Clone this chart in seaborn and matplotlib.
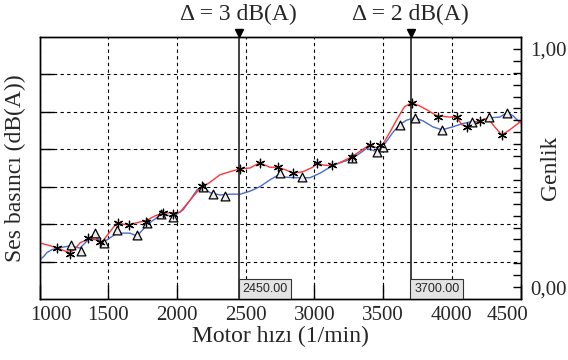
import matplotlib
matplotlib.use("Agg")
import matplotlib.pyplot as plt
import matplotlib.transforms as mtrans
import numpy as np
import pandas as pd
import seaborn as sns

# ---- data ----
red_rpm = [1000, 1060, 1134, 1185, 1221, 1258, 1294, 1353, 1418, 1454, 1513, 1563, 1607, 1651,
           1731, 1768, 1840, 1898, 1971, 2022, 2095, 2168, 2190, 2241, 2313, 2385, 2459, 2531,
           2603, 2675, 2734, 2799, 2843, 2916, 2988, 3017, 3061, 3127, 3184, 3271, 3329, 3402,
           3453, 3496, 3547, 3598, 3656, 3707, 3765, 3816, 3889, 3985, 4035, 4072, 4108, 4152,
           4203, 4261, 4312, 4364, 4422, 4500]
red_db = [57.5, 57.2, 56.8, 56.4, 56.2, 56.7, 57.5, 58.0, 57.9, 57.6, 59.0, 60.2, 60.0, 59.9,
          60.3, 60.4, 61.1, 61.5, 61.5, 61.6, 63.2, 64.8, 65.0, 65.6, 66.6, 67.0, 67.4, 67.5,
          68.2, 67.6, 67.6, 67.2, 66.8, 67.0, 67.6, 68.2, 67.9, 67.8, 68.2, 69.0, 69.7, 70.6,
          70.2, 70.6, 72.2, 73.9, 75.7, 76.2, 75.8, 75.3, 74.5, 74.3, 74.3, 73.3, 73.0, 73.5,
          73.8, 74.2, 73.0, 71.9, 72.6, 73.7]

blue_rpm = [1000, 1031, 1053, 1090, 1134, 1221, 1294, 1353, 1403, 1454, 1491, 1563, 1658, 1709,
            1782, 1840, 1890, 1971, 2044, 2095, 2146, 2183, 2241, 2313, 2385, 2459, 2531, 2603,
            2675, 2749, 2784, 2843, 2909, 2968, 3040, 3113, 3184, 3271, 3380, 3453, 3496, 3569,
            3621, 3672, 3731, 3790, 3862, 3928, 4008, 4072, 4145, 4203, 4269, 4350, 4400, 4444,
            4500]
blue_db = [55.2, 55.7, 56.2, 56.6, 56.8, 57.1, 56.8, 57.9, 58.3, 57.6, 57.9, 58.8, 58.8, 58.4,
           59.9, 60.7, 61.4, 61.0, 61.9, 63.2, 64.6, 65.0, 64.2, 63.9, 64.0, 64.0, 64.4, 65.0,
           65.9, 66.7, 66.3, 66.2, 66.2, 66.2, 66.8, 67.6, 68.2, 68.7, 70.1, 69.7, 70.3, 72.2,
           73.3, 73.9, 74.2, 73.8, 73.0, 72.6, 73.0, 73.4, 73.7, 73.7, 74.2, 74.3, 74.9, 74.5,
           73.5]

star_rpm = [1125, 1221, 1353, 1440, 1570, 1651, 1775, 1898, 1971, 2183, 2459, 2603, 2734, 2843,
            3017, 3127, 3271, 3402, 3475, 3707, 3897, 4035, 4108, 4203, 4364]
star_db = [56.8, 56.0, 58.2, 57.6, 60.2, 59.9, 60.3, 61.5, 61.4, 65.1, 67.4, 68.2, 67.6, 66.8,
           68.2, 67.9, 69.0, 70.6, 70.6, 76.2, 74.3, 74.3, 73.0, 73.8, 71.9]

tri_rpm = [1228, 1302, 1403, 1469, 1563, 1709, 1782, 1883, 1971, 2190, 2262, 2349, 2749, 2909,
           3271, 3453, 3496, 3621, 3731, 3928, 4145, 4269, 4400]
tri_db = [57.2, 56.4, 58.8, 57.5, 59.2, 58.6, 60.2, 61.4, 61.0, 65.0, 64.0, 63.8, 66.8, 66.3,
          68.9, 69.7, 70.3, 73.3, 74.2, 72.6, 73.7, 74.3, 74.9]

cursor_rpm = [2450, 3700]
cursor_titles = ["Δ = 3 dB(A)", "Δ = 2 dB(A)"]
cursor_boxes = ["2450.00", "3700.00"]

x_ticks = [1000, 1500, 2000, 2500, 3000, 3500, 4000, 4500]
x_tick_labels = ["1000", "1500", "2000", "2500", "3000", "3500", "4000", "4500"]
db_grid = [55, 60, 65, 70, 75, 80]
amp_ticks = [0.0, 1.0]
amp_tick_labels = ["0,00", "1,00"]

# ---- style ----
sns.set_style("ticks")
plt.rcParams["font.family"] = ["Liberation Serif", "DejaVu Serif"]

fig = plt.figure(figsize=(5.68, 3.6), dpi=100)
ax = fig.add_axes([39.6 / 568, 1 - 299 / 360, (520.5 - 39.6) / 568, (299 - 37) / 360])

df_red = pd.DataFrame({"rpm": red_rpm, "db": red_db})
df_blue = pd.DataFrame({"rpm": blue_rpm, "db": blue_db})
sns.lineplot(data=df_blue, x="rpm", y="db", color="#4a6cd0", lw=1.0, sort=False,
             estimator=None, ax=ax, zorder=3)
sns.lineplot(data=df_red, x="rpm", y="db", color="#ff3535", lw=1.0, sort=False,
             estimator=None, ax=ax, zorder=3)
sns.scatterplot(x=tri_rpm, y=tri_db, marker="^", s=40, color="#ececec", edgecolor="black",
                linewidth=0.9, ax=ax, zorder=5)
sns.scatterplot(x=star_rpm, y=star_db, marker=(6, 2, 0), s=38, color="black",
                linewidth=0.9, ax=ax, zorder=6)

ax.set_xlim(1000, 4500)
ax.set_ylim(50, 85)
ax.set_xticks(x_ticks)
ax.set_xticklabels(x_tick_labels, fontsize=15)
ax.set_yticks(db_grid)
ax.set_yticklabels([])
ax.tick_params(axis="x", direction="in", length=10, width=1, pad=5, color="black")
ax.tick_params(axis="y", direction="in", length=10, width=1, color="black")
ax.grid(True, color="black", linestyle=(0, (3, 3)), linewidth=0.8)
for s in ax.spines.values():
    s.set_color("black")
    s.set_linewidth(1.0)

ax.set_xlabel("Motor hızı (1/min)", fontsize=17, labelpad=1)
ax.set_ylabel("Ses basıncı (dB(A))", fontsize=17, labelpad=6)

# cursors
blend = mtrans.blended_transform_factory(ax.transData, ax.transAxes)
for xc, title, box in zip(cursor_rpm, cursor_titles, cursor_boxes):
    ax.axvline(xc, color="#333333", lw=1.3, zorder=4)
    ax.plot([xc], [1.015], marker="v", ms=6, color="black", transform=blend,
            clip_on=False, zorder=7)
    ax.annotate(title, xy=(xc, 1.0), xycoords=blend, xytext=(0, 16),
                textcoords="offset points", ha="center", va="center", fontsize=17)
    ax.annotate(box, xy=(xc, 0.0), xycoords=blend, xytext=(2.6, 2.8),
                textcoords="offset points", ha="left", va="bottom", fontsize=9,
                family="Liberation Sans",
                bbox=dict(boxstyle="square,pad=0.3", fc="#e4e4e4", ec="#333333", lw=0.8),
                zorder=8)

# right amplitude axis
ax2 = ax.twinx()
ax2.set_ylim(-0.05, 1.05)
ax2.set_yticks(amp_ticks)
ax2.set_yticklabels(amp_tick_labels, fontsize=15)
ax2.set_yticks(np.arange(0.05, 1.0, 0.05), minor=True)
ax2.tick_params(axis="y", which="both", direction="in", length=6, width=1, pad=7,
                color="black")
ax2.set_ylabel("Genlik", fontsize=17)
ax2.yaxis.set_label_coords(1.04, 0.5)
ax2.grid(False)
for s in ax2.spines.values():
    s.set_color("black")
    s.set_linewidth(1.0)

# end labels shifted inward as in the reference
labs = ax.get_xticklabels()
labs[0].set_transform(labs[0].get_transform() +
                      mtrans.ScaledTranslation(11 / 100, 0, fig.dpi_scale_trans))
labs[-1].set_transform(labs[-1].get_transform() +
                       mtrans.ScaledTranslation(-13 / 100, 0, fig.dpi_scale_trans))

fig.savefig("out.png", dpi=100)
